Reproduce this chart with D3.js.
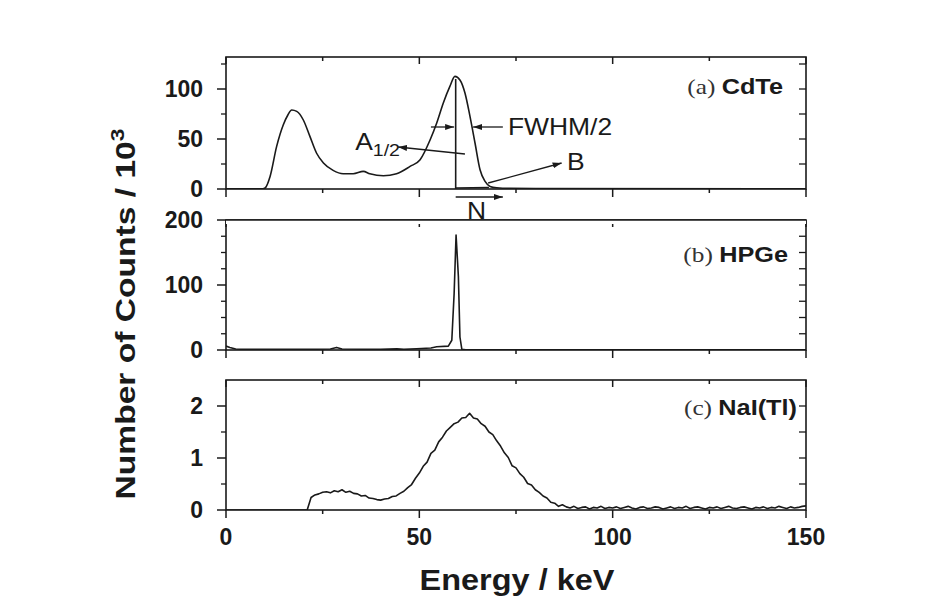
<!DOCTYPE html>
<html>
<head>
<meta charset="utf-8">
<script src="https://cdn.jsdelivr.net/npm/d3@7"></script>
<style>
body { margin: 0; background: #fff; }
</style>
</head>
<body>
<div id="chart"></div>
<script>
// energy axis (keV)
var xTicks = [0, 25, 50, 75, 100, 125, 150];
var xLabels = [0, 50, 100, 150];

// (a) CdTe spectrum, counts / 10^3
var cdteEnergy = [0, 9.5, 10.1, 11.4, 13.1, 14.8, 16.0, 17.0, 18.3, 20.0, 21.7, 23.4, 25.2, 27.7, 30.3, 32.9, 35.5, 37.2, 40.7, 44.1, 47.6, 50.2, 52.8, 54.5, 56.2, 57.9, 59.2, 60.5, 61.8, 63.1, 64.4, 65.7, 67.0, 68.3, 70.0, 73.4, 80.0, 150];
var cdteCounts = [0.3, 0.3, 1, 12.6, 42.6, 64, 74, 79, 77.6, 69, 52.6, 36, 26, 18.6, 15.3, 15.3, 17.6, 15.3, 13.3, 15.3, 22.6, 29.3, 49.3, 66, 86, 102.6, 112.6, 109, 96, 72.6, 46, 19.3, 7.6, 2.6, 1.2, 0.6, 0.4, 0.3];

// (b) HPGe spectrum
var hpgeEnergy = [0, 1, 2.5, 5, 20, 27, 28.6, 30, 40, 44.2, 46, 49.3, 53, 54.5, 57.5, 58.4, 59.0, 59.5, 60.1, 60.5, 61.0, 62, 150];
var hpgeCounts = [6, 4, 1.5, 1, 1, 1.5, 4, 1.5, 1, 1.8, 1, 2, 3, 5, 6, 15, 87, 177, 113, 20, 1, 0.5, 0.5];

// (c) NaI(Tl) spectrum, one value per keV starting at 0 keV
var naiCounts = [
  0, 0, 0, 0, 0, 0, 0, 0, 0, 0, 0, 0, 0, 0, 0, 0, 0, 0, 0, 0, 0, 0,
  0.24, 0.29, 0.31, 0.34, 0.35, 0.33, 0.37, 0.35, 0.39, 0.34,
  0.36, 0.32, 0.31, 0.27, 0.28, 0.23, 0.22, 0.20, 0.19, 0.21,
  0.22, 0.26, 0.27, 0.32, 0.36, 0.43, 0.49, 0.61, 0.71, 0.84,
  0.92, 1.09, 1.15, 1.31, 1.40, 1.52, 1.59, 1.66, 1.69, 1.77,
  1.78, 1.86, 1.77, 1.75, 1.66, 1.61, 1.50, 1.45, 1.33, 1.23,
  1.10, 1.01, 0.85, 0.81, 0.70, 0.63, 0.51, 0.48, 0.39, 0.34,
  0.27, 0.23, 0.15, 0.13, 0.07, 0.10,
  0.06, 0.04, 0.07, 0.03, 0.05, 0.06, 0.02, 0.05, 0.04, 0.07,
  0.03, 0.05, 0.04, 0.06, 0.03, 0.05, 0.07, 0.04, 0.02, 0.05,
  0.06, 0.03, 0.04, 0.06, 0.05, 0.02, 0.04, 0.06, 0.03, 0.05,
  0.04, 0.07, 0.03, 0.05, 0.06, 0.04, 0.02, 0.05, 0.04, 0.06,
  0.03, 0.05, 0.07, 0.04, 0.03, 0.05, 0.06, 0.04, 0.02, 0.05,
  0.04, 0.06, 0.03, 0.05, 0.04, 0.07, 0.05, 0.03, 0.06, 0.04,
  0.05, 0.07, 0.08
];
var naiEnergy = naiCounts.map(function(d, i) { return i; });

// annotations on the CdTe panel, in keV / counts
var peakLine = [[59.4, 0], [59.4, 110]];
var baseLine = [[59.4, 1], [68.0, 1.5]];
var fwhmLeft = [[53.0, 62], [59.0, 62]];
var fwhmRight = [[71.6, 62], [63.9, 62]];
var areaArrow = [[61.8, 35], [44.5, 42]];
var bArrow = [[67.8, 6], [86.8, 26]];

var W = 943, H = 610;
var x0 = 226, x1 = 806;
var ink = '#1a1a1a';
var sans = 'Liberation Sans, Arial, sans-serif';
var serif = 'Liberation Serif, Times New Roman, serif';

var panels = [
  { tag: '(a) ', name: 'CdTe', top: 57, bottom: 189, ymax: 132, major: [0, 50, 100], minor: [25, 75, 125], step: 25,
    energy: cdteEnergy, counts: cdteCounts, curve: d3.curveMonotoneX, labelX: 783, labelY: 94 },
  { tag: '(b) ', name: 'HPGe', top: 220, bottom: 350, ymax: 200, major: [0, 100, 200], minor: [25, 50, 75, 125, 150, 175], step: 25,
    energy: hpgeEnergy, counts: hpgeCounts, curve: d3.curveLinear, labelX: 788, labelY: 262 },
  { tag: '(c) ', name: 'NaI(Tl)', top: 380, bottom: 510, ymax: 2.5, major: [0, 1, 2], minor: [0.5, 1.5], step: 0.5,
    energy: naiEnergy, counts: naiCounts, curve: d3.curveLinear, labelX: 797, labelY: 415 }
];

var svg = d3.select('#chart').append('svg')
  .attr('width', W)
  .attr('height', H)
  .style('background', '#fff');

var defs = svg.append('defs');
defs.append('marker')
  .attr('id', 'arr')
  .attr('viewBox', '0 0 9 6')
  .attr('markerWidth', 9)
  .attr('markerHeight', 6)
  .attr('refX', 9)
  .attr('refY', 3)
  .attr('orient', 'auto')
  .attr('markerUnits', 'userSpaceOnUse')
  .append('path')
  .attr('d', 'M0,0 L9,3 L0,6 z')
  .attr('fill', ink);

var x = d3.scaleLinear().domain([0, 150]).range([x0, x1]);

panels.forEach(function(p, i) {
  var y = d3.scaleLinear().domain([0, p.ymax]).range([p.bottom, p.top]);
  p.y = y;
  var g = svg.append('g').attr('class', 'panel');

  defs.append('clipPath').attr('id', 'clip' + i)
    .append('rect').attr('x', x0).attr('y', p.top).attr('width', x1 - x0).attr('height', p.bottom - p.top);

  // spectrum
  var line = d3.line()
    .x(function(d) { return x(d[0]); })
    .y(function(d) { return y(d[1]); })
    .curve(p.curve);
  g.append('path')
    .datum(p.energy.map(function(e, j) { return [e, p.counts[j]]; }))
    .attr('clip-path', 'url(#clip' + i + ')')
    .attr('d', line)
    .attr('fill', 'none')
    .attr('stroke', ink)
    .attr('stroke-width', 1.6)
    .attr('stroke-linejoin', 'round');

  // frame
  g.append('rect')
    .attr('x', x0).attr('y', p.top)
    .attr('width', x1 - x0).attr('height', p.bottom - p.top)
    .attr('fill', 'none').attr('stroke', ink).attr('stroke-width', 1.6);

  // x ticks: out at bottom, in at top
  xTicks.forEach(function(t) {
    var big = xLabels.indexOf(t) >= 0;
    g.append('line').attr('x1', x(t)).attr('x2', x(t))
      .attr('y1', p.bottom).attr('y2', p.bottom + (big ? 8 : 4))
      .attr('stroke', ink).attr('stroke-width', 1.5);
    g.append('line').attr('x1', x(t)).attr('x2', x(t))
      .attr('y1', p.top).attr('y2', p.top + (big ? 7 : 4))
      .attr('stroke', ink).attr('stroke-width', 1.5);
  });

  // y ticks: out on left, in on right
  p.major.forEach(function(t) {
    g.append('line').attr('x1', x0 - 9).attr('x2', x0)
      .attr('y1', y(t)).attr('y2', y(t))
      .attr('stroke', ink).attr('stroke-width', 1.5);
    g.append('text')
      .attr('x', 203).attr('y', y(t) + 8)
      .attr('text-anchor', 'end')
      .attr('font-family', sans).attr('font-weight', 'bold').attr('font-size', 23)
      .attr('fill', ink)
      .text(t);
  });
  p.minor.forEach(function(t) {
    g.append('line').attr('x1', x0 - 5).attr('x2', x0)
      .attr('y1', y(t)).attr('y2', y(t))
      .attr('stroke', ink).attr('stroke-width', 1.3);
  });
  d3.range(p.step, p.ymax, p.step).forEach(function(t) {
    g.append('line').attr('x1', x1 - 7).attr('x2', x1)
      .attr('y1', y(t)).attr('y2', y(t))
      .attr('stroke', ink).attr('stroke-width', 1.3);
  });

  // panel label
  var lab = g.append('text')
    .attr('transform', 'translate(' + p.labelX + ',' + p.labelY + ') scale(1.15,1)')
    .attr('text-anchor', 'end')
    .attr('font-size', 22)
    .attr('fill', ink);
  lab.append('tspan').attr('font-family', serif).attr('fill', '#333').text(p.tag);
  lab.append('tspan').attr('font-family', sans).attr('font-weight', 'bold').text(p.name);
});

// x tick labels under the bottom panel
var last = panels[2];
xLabels.forEach(function(t) {
  svg.append('text')
    .attr('x', x(t)).attr('y', last.bottom + 35)
    .attr('text-anchor', 'middle')
    .attr('font-family', sans).attr('font-weight', 'bold').attr('font-size', 23)
    .attr('fill', ink)
    .text(t);
});

// axis titles
svg.append('text')
  .attr('transform', 'translate(517,590) scale(1.12,1)')
  .attr('text-anchor', 'middle')
  .attr('font-family', sans).attr('font-weight', 'bold').attr('font-size', 29)
  .attr('fill', ink)
  .text('Energy / keV');

var ylab = svg.append('text')
  .attr('transform', 'translate(135,314) rotate(-90) scale(1.2,1)')
  .attr('text-anchor', 'middle')
  .attr('font-family', sans).attr('font-weight', 'bold').attr('font-size', 28)
  .attr('fill', ink);
ylab.append('tspan').text('Number of Counts / 10');
ylab.append('tspan').attr('font-size', 19).attr('dy', -11).text('3');

// CdTe annotations
var a = panels[0];
function seg(pts, arrow, w) {
  var l = svg.append('line')
    .attr('x1', x(pts[0][0])).attr('y1', a.y(pts[0][1]))
    .attr('x2', x(pts[1][0])).attr('y2', a.y(pts[1][1]))
    .attr('stroke', ink).attr('stroke-width', w || 1.3);
  if (arrow) l.attr('marker-end', 'url(#arr)');
  return l;
}
seg(peakLine, false, 1.6);
seg(baseLine, false, 1.6);
seg(fwhmLeft, true);
seg(fwhmRight, true);
seg(areaArrow, true);
seg(bArrow, true);

// N arrow below the axis
svg.append('line')
  .attr('x1', x(59.4)).attr('x2', x(71.6))
  .attr('y1', a.bottom + 8).attr('y2', a.bottom + 8)
  .attr('stroke', ink).attr('stroke-width', 1.6)
  .attr('marker-end', 'url(#arr)');

function label(txt, e, c, anchor) {
  var t = svg.append('text')
    .attr('transform', 'translate(' + x(e) + ',' + a.y(c) + ') scale(1.15,1)')
    .attr('text-anchor', anchor || 'start')
    .attr('font-family', sans).attr('font-size', 23).attr('fill', ink);
  t.text(txt);
  return t;
}
label('FWHM/2', 72.9, 54);
label('B', 88.2, 19);
label('N', 64.8, -30, 'middle');

var aLab = label('', 33.4, 39);
aLab.append('tspan').text('A');
aLab.append('tspan').attr('font-size', 17).attr('dy', 6).text('1/2');

// keep the next panel's frame above the cut N
svg.append('rect')
  .attr('x', x0).attr('y', panels[1].top)
  .attr('width', x1 - x0).attr('height', 4)
  .attr('fill', '#fff');
svg.append('line')
  .attr('x1', x0).attr('x2', x1)
  .attr('y1', panels[1].top).attr('y2', panels[1].top)
  .attr('stroke', ink).attr('stroke-width', 1.6);
</script>
</body>
</html>
